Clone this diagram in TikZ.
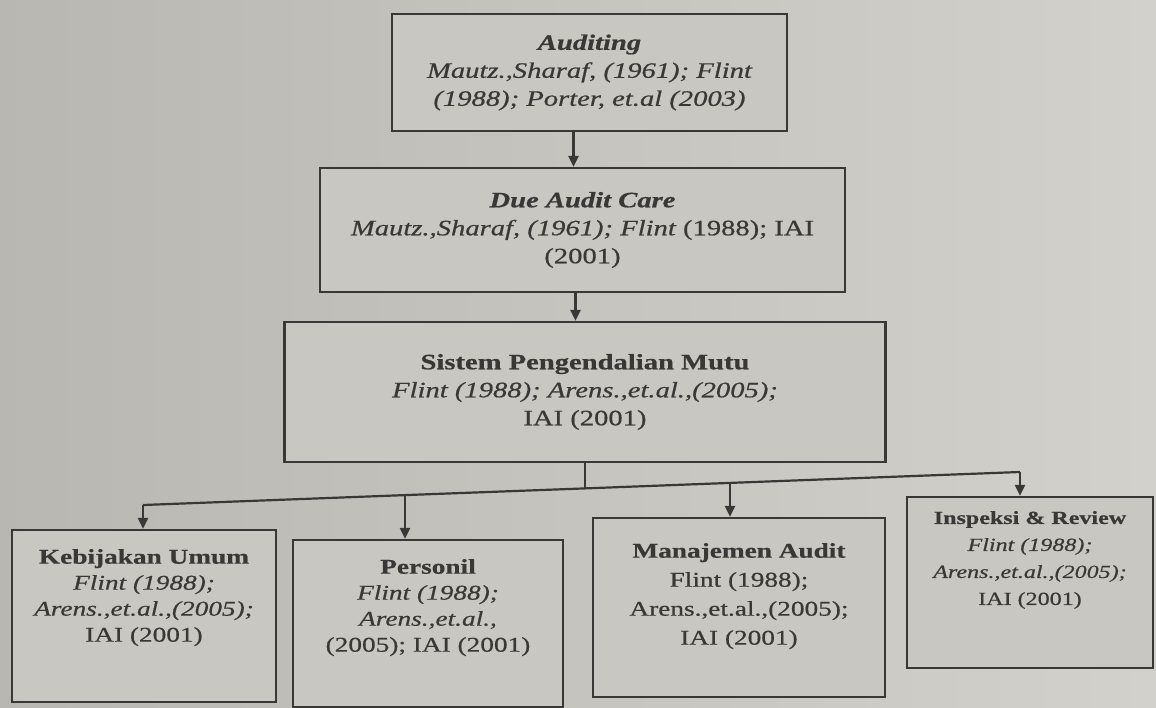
\documentclass[tikz,border=0pt]{standalone}
\usepackage{fontspec}
\setmainfont{Liberation Serif}[FakeStretch=1.3, FakeBold=0.6]
\usetikzlibrary{arrows.meta}
\definecolor{bgL}{RGB}{184,183,178}
\definecolor{bgR}{RGB}{210,209,204}
\definecolor{boxbg}{RGB}{200,199,194}
\definecolor{ink}{RGB}{58,56,54}
\tikzset{
  box/.style={draw=ink, line width=2.2pt, fill=boxbg, align=center, inner sep=0pt,
    text=ink, font=\fontsize{22}{28}\selectfont},
  txt/.style={align=center, inner sep=0pt, text=ink, anchor=north, font=\fontsize{21}{26}\selectfont},
  conn/.style={draw=ink, line width=2.2pt},
  arr/.style={conn, -{Triangle[length=11pt,width=10pt]}}
}
\begin{document}
\begin{tikzpicture}[x=1pt,y=-1pt]
\shade[left color=bgL, right color=bgR] (0,0) rectangle (1156,707);
\useasboundingbox (0,0) rectangle (1156,707);

\node[box, minimum width=395pt, minimum height=117pt] (b1) at (589.5,72.5)
  {{\bfseries\itshape Auditing}\\ {\itshape Mautz.,Sharaf, (1961); Flint}\\ {\itshape (1988); Porter, et.al (2003)}};
\node[box, minimum width=525pt, minimum height=124pt] (b2) at (582.5,230)
  {{\bfseries\itshape Due Audit Care}\\ {\itshape Mautz.,Sharaf, (1961); Flint} (1988); IAI\\ (2001)};
\node[box, minimum width=601pt, minimum height=140pt] (b3) at (585,392)
  {{\bfseries Sistem Pengendalian Mutu}\\ {\itshape Flint (1988); Arens.,et.al.,(2005);}\\ IAI (2001)};

\node[box, minimum width=264pt, minimum height=172pt] (b4) at (144,616) {};
\node[txt, yshift=-20pt] (t4) at (b4.north)
  {{\bfseries Kebijakan Umum}\\ {\itshape Flint (1988);}\\ {\itshape Arens.,et.al.,(2005);}\\ IAI (2001)};
\node[box, minimum width=270pt, minimum height=167pt] (b5) at (428,623.5) {};
\node[txt, yshift=-20pt] (t5) at (b5.north)
  {{\bfseries Personil}\\ {\itshape Flint (1988);}\\ {\itshape Arens.,et.al.,}\\ (2005); IAI (2001)};
\node[box, minimum width=292pt, minimum height=179pt] (b6) at (739,607.5) {};
\node[txt, yshift=-26pt, font=\fontsize{21}{29}\selectfont] (t6) at (b6.north)
  {{\bfseries Manajemen Audit}\\ Flint (1988);\\ Arens.,et.al.,(2005);\\ IAI (2001)};
\node[box, minimum width=246pt, minimum height=171pt] (b7) at (1030,582.5) {};
\node[txt, yshift=-15pt, font=\fontsize{18.5}{27}\selectfont] (t7) at (b7.north)
  {{\bfseries Inspeksi \& Review}\\ {\itshape Flint (1988);}\\ {\itshape Arens.,et.al.,(2005);}\\ IAI (2001)};

\draw[arr] ([xshift=-16pt]b1.south) -- ([xshift=-16pt]b1.south |- b2.north);
\draw[arr] ([xshift=-7pt]b2.south) -- ([xshift=-7pt]b2.south |- b3.north);

\coordinate (j4) at (143,505);
\coordinate (j5) at (405,495.1);
\coordinate (j3) at (585,488.4);
\coordinate (j6) at (730,482.9);
\coordinate (j7) at (1020,472);
\draw[conn] (b3.south) -- (j3);
\draw[conn] (j4) -- (j5) -- (j3) -- (j6) -- (j7);
\draw[arr] (j4) -- (j4 |- b4.north);
\draw[arr] (j5) -- (j5 |- b5.north);
\draw[arr] (j6) -- (j6 |- b6.north);
\draw[arr] (j7) -- (j7 |- b7.north);
\end{tikzpicture}
\end{document}
